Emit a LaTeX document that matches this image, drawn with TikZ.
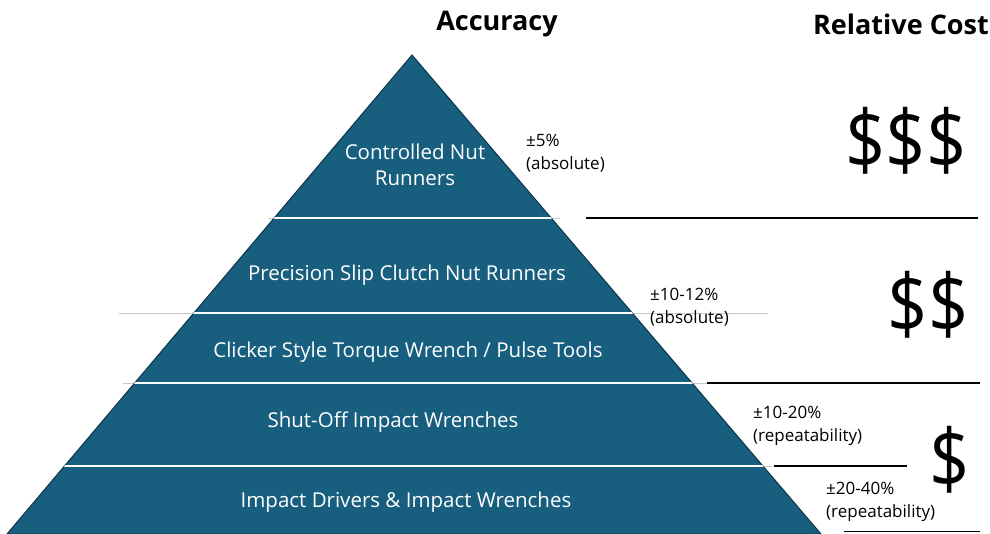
\documentclass[tikz,border=0pt]{standalone}
\usepackage{fontspec}
\setmainfont{Open Sans}
\definecolor{pyr}{RGB}{23,94,127}
\definecolor{pyredge}{RGB}{12,52,72}
\definecolor{lgray}{RGB}{200,200,200}
\tikzset{
  tier/.style={text=white,font=\fontsize{20.5}{26}\selectfont,align=center},
  acc/.style={text=black,font=\fontsize{17}{23}\selectfont,align=left,anchor=north west,inner sep=0pt},
  cost/.style={text=black,font=\fontsize{#1}{#1}\selectfont,inner sep=0pt,xscale=0.86},
  hdr/.style={text=black,font=\bfseries\fontsize{27}{30}\selectfont,inner sep=0pt},
  wline/.style={white,line width=2pt},
  gline/.style={lgray,line width=1pt},
  bline/.style={black,line width=1.8pt}
}
\begin{document}
\begin{tikzpicture}[x=1pt,y=-1pt]
\useasboundingbox (0,0) rectangle (990,533);
% gray extensions
\draw[gline] (268,218) -- (560,218);
\draw[gline] (119,313) -- (768,313);
\draw[gline] (123,383) -- (707,383);
\draw[gline] (66,466) -- (772,466);
% pyramid
\path[fill=pyr,draw=pyredge,line width=1pt] (412,55) -- (821,534) -- (7,534) -- cycle;
\begin{scope}
\clip (412,55) -- (821,534) -- (7,534) -- cycle;
\draw[wline] (268,218) -- (560,218);
\draw[wline] (100,313) -- (768,313);
\draw[wline] (100,383) -- (707,383);
\draw[wline] (40,466) -- (772,466);
\end{scope}
% black cost separators
\draw[bline] (586,218) -- (978,218);
\draw[bline] (707,383) -- (980,383);
\draw[bline] (774,466) -- (907,466);
\draw[bline] (844,531.5) -- (980,531.5);
% tier labels
\node[tier] (t1) at (415,165) {Controlled Nut\\Runners};
\node[tier] (t2) at (407,275) {Precision Slip Clutch Nut Runners};
\node[tier] (t3) at (408,352) {Clicker Style Torque Wrench / Pulse Tools};
\node[tier] (t4) at (393,422) {Shut-Off Impact Wrenches};
\node[tier] (t5) at (406,502) {Impact Drivers \& Impact Wrenches};
% accuracy labels
\node[acc] (a1) at (526,134) {±5\%\\(absolute)};
\node[acc] (a2) at (650,288) {±10-12\%\\(absolute)};
\node[acc] (a3) at (753,406) {±10-20\%\\(repeatability)};
\node[acc] (a4) at (826,482) {±20-40\%\\(repeatability)};
% cost
\node[cost=82] (c1) at (906,141) {\$\$\$};
\node[cost=82] (c2) at (928,305) {\$\$};
\node[cost=82] (c3) at (950,460) {\$};
% headers
\node[hdr] (h1) at (497,24) {Accuracy};
\node[hdr] (h2) at (901,24) {Relative Cost};
\end{tikzpicture}
\end{document}
